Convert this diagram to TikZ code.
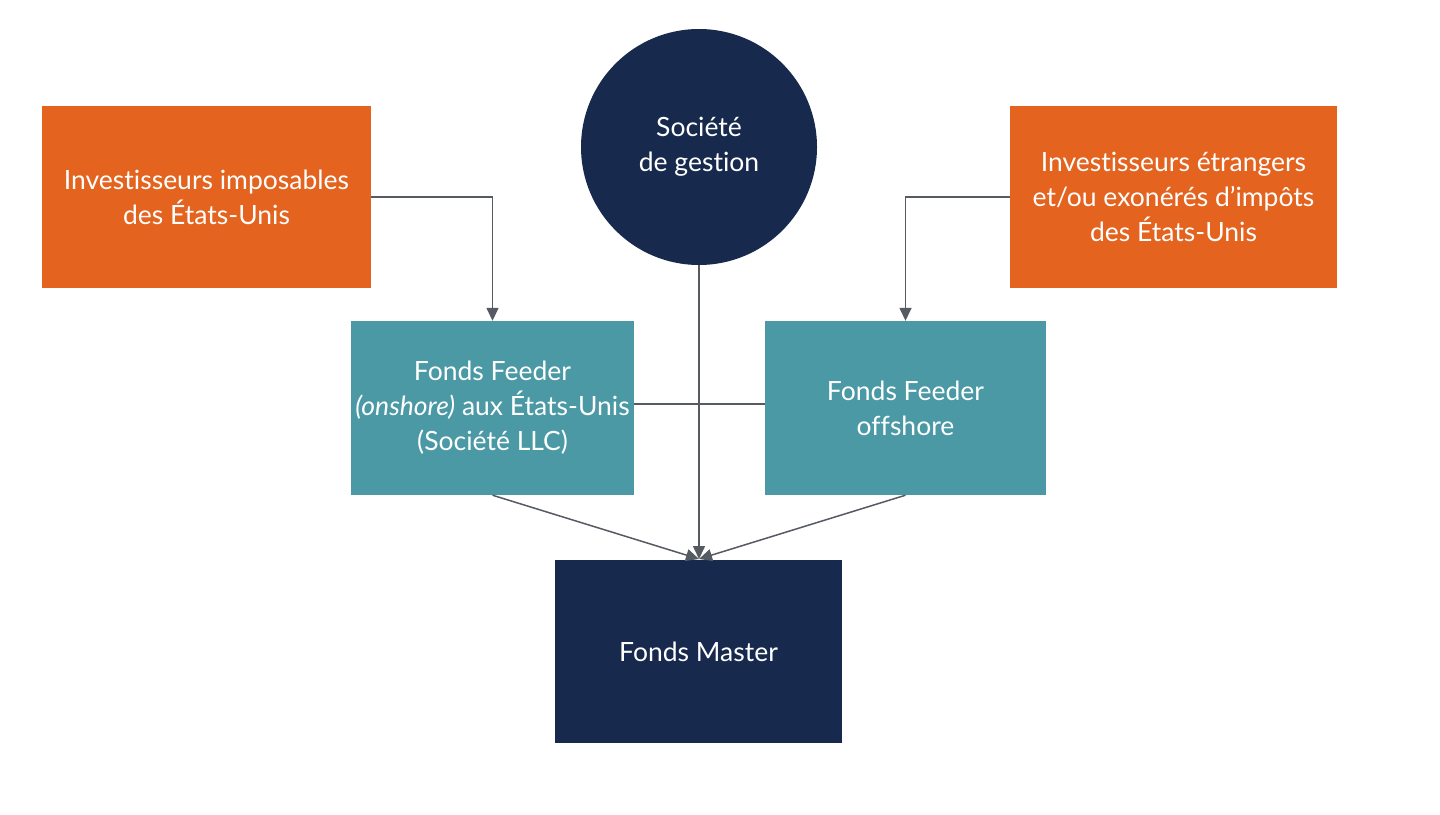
\documentclass[tikz,border=0pt]{standalone}
\usepackage{fontspec}
\setmainfont{Lato}[Ligatures={NoCommon}]
\usetikzlibrary{arrows.meta}
\definecolor{orangebox}{HTML}{E3631F}
\definecolor{navybox}{HTML}{172A4D}
\definecolor{tealbox}{HTML}{4A99A5}
\definecolor{linegray}{HTML}{555A63}
\begin{document}
\begin{tikzpicture}[x=1pt,y=-1pt,
  boxtext/.style={text=white,align=center,font=\fontsize{26.5}{35}\selectfont,inner sep=0pt},
  obox/.style={boxtext,fill=orangebox},
  tbox/.style={boxtext,fill=tealbox},
  nbox/.style={boxtext,fill=navybox},
  conn/.style={draw=linegray,line width=1.5pt},
  arr/.style={conn,-{Triangle[length=13pt,width=12pt]}}]
\useasboundingbox (0,0) rectangle (1440,814);
\fill[white] (0,0) rectangle (1440,814);
\node[obox,minimum width=329pt,minimum height=182pt] (inv1) at (206.5,197) {Investisseurs imposables\\des États-Unis};
\node[obox,minimum width=327pt,minimum height=182pt] (inv2) at (1173.5,197) {Investisseurs étrangers\\et/ou exonérés d’impôts\\des États-Unis};
\node[nbox,circle,minimum size=236pt] (soc) at (699,147) {Société\\de gestion};
\node[tbox,minimum width=283pt,minimum height=174pt] (ff1) at (492.5,408) {Fonds Feeder\\\textit{(onshore)} aux États-Unis\\(Société LLC)};
\node[tbox,minimum width=281pt,minimum height=174pt] (ff2) at (905.5,408) {Fonds Feeder\\offshore};
\node[nbox,minimum width=287pt,minimum height=183pt] (master) at (698.5,651.5) {Fonds Master};
\coordinate (tgt) at (699,559);
\draw[arr] (inv1.east |- 0,197) -| (ff1.north);
\draw[arr] (inv2.west |- 0,197) -| (ff2.north);
\draw[conn] (ff1.east |- 0,404) -- (ff2.west |- 0,404);
\draw[arr] (soc.south) -- (tgt);
\draw[arr] (ff1.south) -- (tgt);
\draw[arr] (ff2.south) -- (tgt);
\end{tikzpicture}
\end{document}
